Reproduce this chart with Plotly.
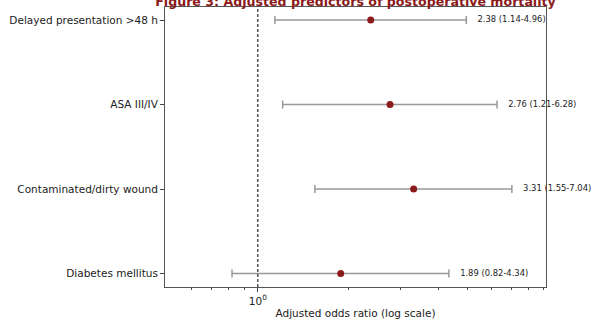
import math
import plotly.graph_objects as go

categories = ["Diabetes mellitus", "Contaminated/dirty wound", "ASA III/IV", "Delayed presentation >48 h"]
odds_ratio = [1.89, 3.31, 2.76, 2.38]
ci_low = [0.82, 1.55, 1.21, 1.14]
ci_high = [4.34, 7.04, 6.28, 4.96]
major_ticks = [1]
major_tick_labels = ["10<sup>0</sup>"]
minor_ticks = [0.6, 0.7, 0.8, 0.9, 2, 3, 4, 5, 6, 7, 8, 9]

ypos = list(range(len(categories)))
labels = [f"{o:.2f} ({l:.2f}-{h:.2f})" for o, l, h in zip(odds_ratio, ci_low, ci_high)]

fig = go.Figure()
fig.add_trace(go.Scatter(
    x=odds_ratio, y=ypos, mode="markers",
    marker=dict(color="#8b1a1a", size=7),
    error_x=dict(type="data", symmetric=False,
                 array=[h - o for h, o in zip(ci_high, odds_ratio)],
                 arrayminus=[o - l for o, l in zip(odds_ratio, ci_low)],
                 color="#999999", thickness=1.5, width=4),
    showlegend=False,
))
fig.add_trace(go.Scatter(
    x=[h * 1.09 for h in ci_high], y=ypos, mode="text", text=labels,
    textposition="middle right",
    textfont=dict(family="DejaVu Sans", size=8.4, color="#222222"),
    showlegend=False, cliponaxis=False,
))
fig.add_shape(type="line", xref="x", yref="paper", x0=1, x1=1, y0=0, y1=1,
              line=dict(color="black", width=1, dash="3px,2px"))

fig.update_layout(
    width=592, height=320,
    margin=dict(l=165, r=46, t=7, b=33),
    paper_bgcolor="white", plot_bgcolor="white",
    font=dict(family="DejaVu Sans", size=10.5, color="#222222"),
    title=dict(text="<b>Figure 3: Adjusted predictors of postoperative mortality</b>",
               font=dict(family="DejaVu Sans", size=12.6, color="#8b1a1a"),
               x=0.5, xanchor="center", xref="paper", yref="container", y=0.994, yanchor="middle"),
    xaxis=dict(type="log", range=[math.log10(0.49), math.log10(9.15)],
               tickvals=major_ticks, ticktext=major_tick_labels,
               ticks="outside", ticklen=4, tickcolor="#444", showgrid=False,
               showline=True, linecolor="#555", linewidth=1, mirror=True,
               minor=dict(tickvals=minor_ticks, ticks="outside", ticklen=2, tickcolor="#444", showgrid=False),
               title=dict(text="Adjusted odds ratio (log scale)", standoff=4),
               zeroline=False, automargin=False),
    yaxis=dict(range=[-0.16, 3.155], tickvals=ypos, ticktext=categories,
               ticks="outside", ticklen=4, tickcolor="#444", showgrid=False,
               showline=True, linecolor="#555", linewidth=1, mirror=True,
               zeroline=False, automargin=False),
)
fig.update_xaxes(title_font=dict(size=10.5))
fig.write_html("out.html", config={"displayModeBar": False},
               post_script="document.body.style.margin='0';")
